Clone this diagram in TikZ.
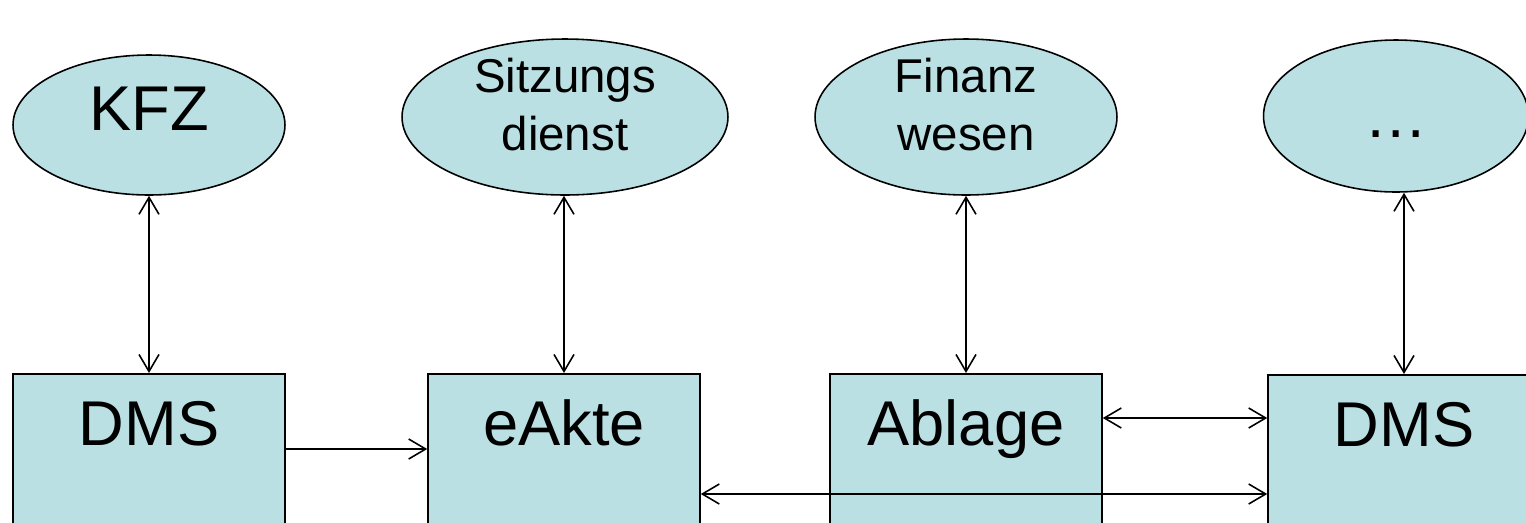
\documentclass[tikz,border=0pt]{standalone}
\usepackage{fontspec}
\setmainfont{Liberation Sans}
\usepackage{tikz}
\usetikzlibrary{arrows.meta,shapes.geometric,calc}

\definecolor{boxfill}{RGB}{186,224,227}

\begin{document}
\begin{tikzpicture}
[x=0.02cm,y=-0.02cm,>={Straight Barb[length=0.34cm,width=0.4cm]},line width=0.9pt,
 unit/.style={ellipse,draw=black,fill=boxfill,inner sep=0pt,align=center,text depth=0.52cm},
 system/.style={rectangle,draw=black,fill=boxfill,anchor=north,minimum width=5.44cm,
   inner xsep=0pt,inner ysep=0.52cm,text height=0.92cm,text depth=4cm,
   font=\fontsize{36}{40}\selectfont},
 big/.style={font=\fontsize{36}{40}\selectfont},
 small/.style={font=\fontsize{27}{33}\selectfont,inner ysep=-0.2cm}]
            \clip (0,0) rectangle (1526,522);
            \node[unit,big,minimum width=5.44cm,minimum height=2.8cm,text depth=0.66cm] (kfz) at (149,125) {KFZ};
            \node[unit,small,minimum width=6.52cm,minimum height=3.12cm] (sitz) at (565,117) {Sitzungs\\dienst};
            \node[unit,small,minimum width=6.04cm,minimum height=3.12cm] (fin) at (966,117) {Finanz\\wesen};
            \node[unit,big,minimum width=5.3cm,minimum height=3.04cm,text height=0.84cm,text depth=0pt] (etc) at (1396,116) {…};
            \node[system] (dms1) at (149,373) {DMS};
            \node[system] (eakte) at (564,373) {eAkte};
            \node[system] (ablage) at (966,373) {Ablage};
            \node[system] (dms2) at (1404,374) {DMS};
            % anbindung der fachverfahren
            \draw[<->] (kfz.south) -- (dms1.north);
            \draw[<->] (sitz.south -| eakte.north) -- (eakte.north);
            \draw[<->] (fin.south) -- (ablage.north);
            \draw[<->] (dms2.north |- etc.south) -- (dms2.north);
            % querverbindungen
            \draw[->] ($(dms1.north east)+(0,76)$) coordinate (p1) -- (p1 -| eakte.west);
            \draw[<->] ($(ablage.north east)+(0,45)$) coordinate (p2) -- (p2 -| dms2.west);
            \draw[<->] ($(eakte.north east)+(0,121)$) coordinate (p3) -- (p3 -| dms2.west);
\end{tikzpicture}
\end{document}
